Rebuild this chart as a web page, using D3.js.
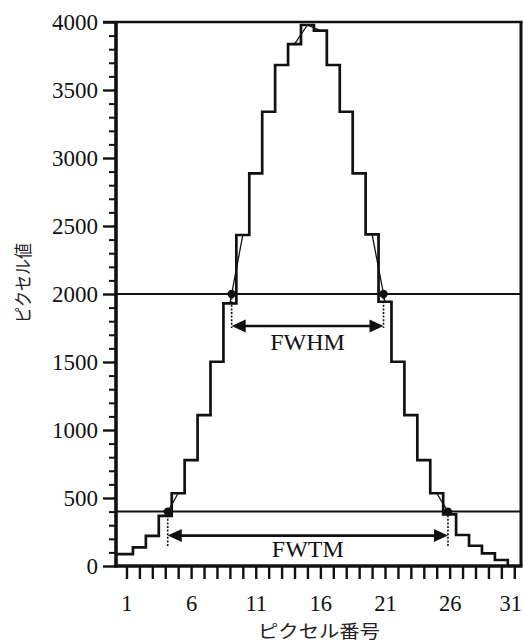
<!DOCTYPE html>
<html>
<head>
<meta charset="utf-8">
<script src="https://cdn.jsdelivr.net/npm/d3@7"></script>
<style>
  html, body { margin: 0; padding: 0; background: #fff; }
  svg { display: block; }
</style>
</head>
<body>
<div id="chart"></div>
<script>
// ---- data ----
const pixelNumbers = [1,2,3,4,5,6,7,8,9,10,11,12,13,14,15,16,17,18,19,20,21,22,23,24,25,26,27,28,29,30];
const pixelValues  = [88,137,221,368,535,779,1110,1502,1931,2434,2887,3340,3684,3838,3978,3936,3684,3340,2887,2439,1943,1502,1110,779,535,380,228,149,93,44];
const xTickValues  = [1,2,3,4,5,6,7,8,9,10,11,12,13,14,15,16,17,18,19,20,21,22,23,24,25,26,27,28,29,30,31];
const xTickLabels  = [1,6,11,16,21,26,31];
const yTickValues  = [0,500,1000,1500,2000,2500,3000,3500,4000];
const yMinorTicks  = [100,200,300,400,600,700,800,900,1100,1200,1300,1400,1600,1700,1800,1900,2100,2200,2300,2400,2600,2700,2800,2900,3100,3200,3300,3400,3600,3700,3800,3900];
const halfMax  = 2000;   // FWHM level
const tenthMax = 400;    // FWTM level
const interpGroups = [[14,15,16],[9,10],[20,21],[4,5],[25,26]];
const xTitle = "ピクセル番号";
const yTitle = "ピクセル値";

// ---- layout ----
const W = 523, H = 643;
const mLeft = 116, mRight = 521, mTop = 22, mBottom = 566;

const svg = d3.select("#chart").append("svg").attr("width", W).attr("height", H);

const x = d3.scaleLinear().domain([0.19, 31.52]).range([mLeft, mRight]);
const y = d3.scaleLinear().domain([0, 4000]).range([mBottom, mTop]);

const serif = "'Liberation Serif', 'Times New Roman', serif";
const cjk = "'Noto Sans CJK JP', 'Noto Sans', sans-serif";

// ---- y axis ----
const yAxisMajor = d3.axisLeft(y).tickValues(yTickValues).tickSize(13).tickPadding(5).tickFormat(d3.format("d"));
const gy = svg.append("g").attr("transform", `translate(${mLeft},0)`).call(yAxisMajor);
gy.select(".domain").remove();
gy.selectAll(".tick line").attr("stroke", "#111").attr("stroke-width", 2.4);
gy.selectAll(".tick text").attr("font-family", serif).attr("font-size", 23).attr("fill", "#111");

const yAxisMinor = d3.axisLeft(y).tickValues(yMinorTicks).tickSize(7).tickFormat("");
const gym = svg.append("g").attr("transform", `translate(${mLeft},0)`).call(yAxisMinor);
gym.select(".domain").remove();
gym.selectAll(".tick line").attr("stroke", "#111").attr("stroke-width", 2);

// ---- x axis ----
const xAxis = d3.axisBottom(x).tickValues(xTickValues).tickSize(13).tickPadding(16)
  .tickFormat(d => xTickLabels.includes(d) ? d : "");
const gx = svg.append("g").attr("transform", `translate(0,${mBottom})`).call(xAxis);
gx.select(".domain").remove();
gx.selectAll(".tick line").attr("stroke", "#111").attr("stroke-width", 2.4);
gx.selectAll(".tick text").attr("font-family", serif).attr("font-size", 22.5).attr("fill", "#111");
// keep the last label inside the window
gx.selectAll(".tick text").filter(d => d === xTickLabels[xTickLabels.length - 1]).attr("dx", -4);

// ---- frame ----
const frame = svg.append("g").attr("stroke", "#111").attr("fill", "none");
frame.append("line").attr("x1", mLeft - 13).attr("x2", mRight + 1.5).attr("y1", mTop).attr("y2", mTop).attr("stroke-width", 2.6);
frame.append("line").attr("x1", mRight).attr("x2", mRight).attr("y1", mTop).attr("y2", mBottom).attr("stroke-width", 3);
frame.append("line").attr("x1", mLeft).attr("x2", mLeft).attr("y1", mTop - 1).attr("y2", mBottom + 1.5).attr("stroke-width", 3.6);
frame.append("line").attr("x1", mLeft - 1.5).attr("x2", mRight + 1.5).attr("y1", mBottom).attr("y2", mBottom).attr("stroke-width", 3.6);

// ---- level lines ----
[halfMax, tenthMax].forEach(L => {
  svg.append("line").attr("x1", mLeft).attr("x2", mRight).attr("y1", y(L)).attr("y2", y(L))
    .attr("stroke", "#111").attr("stroke-width", 2);
});

// ---- step profile ----
const stepPts = [];
pixelNumbers.forEach((p, i) => {
  const x0 = i === 0 ? x.domain()[0] : p - 0.5;
  stepPts.push([x0, pixelValues[i]]);
  stepPts.push([p + 0.5, pixelValues[i]]);
});
stepPts.push([pixelNumbers[pixelNumbers.length - 1] + 0.5, 0]);
svg.append("path")
  .attr("d", d3.line().x(d => x(d[0])).y(d => y(d[1]))(stepPts))
  .attr("fill", "none").attr("stroke", "#111").attr("stroke-width", 2.7).attr("stroke-linejoin", "miter");

// ---- thin interpolation between pixel centres ----
const valueOf = p => pixelValues[pixelNumbers.indexOf(p)];
interpGroups.forEach(g => {
  svg.append("path")
    .attr("d", d3.line().x(p => x(p)).y(p => y(valueOf(p)))(g))
    .attr("fill", "none").attr("stroke", "#111").attr("stroke-width", 1.3);
});

// ---- crossings ----
function crossings(L) {
  const res = [];
  for (let i = 0; i < pixelValues.length - 1; i++) {
    const a = pixelValues[i], b = pixelValues[i + 1];
    if ((a - L) * (b - L) < 0) res.push(pixelNumbers[i] + (L - a) / (b - a));
  }
  return res;
}

function annotate(L, arrowOffset, dotExtra, labelOffset, label) {
  const c = crossings(L);
  const xl = x(c[0]), xr = x(c[c.length - 1]);
  const yl = y(L);
  const ay = yl + arrowOffset;
  [xl, xr].forEach(xx => {
    svg.append("line").attr("x1", xx).attr("x2", xx).attr("y1", yl).attr("y2", ay + dotExtra)
      .attr("stroke", "#111").attr("stroke-width", 1.6).attr("stroke-dasharray", "2,1.6");
  });
  [xl, xr].forEach(xx => {
    svg.append("circle").attr("cx", xx).attr("cy", yl).attr("r", 4.2).attr("fill", "#111");
  });
  const hl = 14, hw = 6.5;
  svg.append("line").attr("x1", xl + hl - 2).attr("x2", xr - hl + 2).attr("y1", ay).attr("y2", ay)
    .attr("stroke", "#111").attr("stroke-width", 2.6);
  svg.append("path").attr("d", `M${xl},${ay}L${xl + hl},${ay - hw}L${xl + hl},${ay + hw}Z`).attr("fill", "#111");
  svg.append("path").attr("d", `M${xr},${ay}L${xr - hl},${ay - hw}L${xr - hl},${ay + hw}Z`).attr("fill", "#111");
  svg.append("text").attr("x", (xl + xr) / 2).attr("y", ay + labelOffset)
    .attr("text-anchor", "middle").attr("font-family", serif).attr("font-size", 24).attr("fill", "#111")
    .text(label);
}
annotate(halfMax, 32, 2, 24, "FWHM");
annotate(tenthMax, 24, 11, 21, "FWTM");

// ---- axis titles ----
svg.append("text").attr("x", 319).attr("y", 638).attr("text-anchor", "middle")
  .attr("font-family", cjk).attr("font-size", 18).attr("fill", "#222")
  .attr("textLength", 122).attr("lengthAdjust", "spacingAndGlyphs").text(xTitle);
svg.append("text").attr("transform", "translate(30,283) rotate(-90)").attr("text-anchor", "middle")
  .attr("font-family", cjk).attr("font-size", 18).attr("fill", "#222")
  .attr("textLength", 80).attr("lengthAdjust", "spacingAndGlyphs").text(yTitle);
</script>
</body>
</html>
